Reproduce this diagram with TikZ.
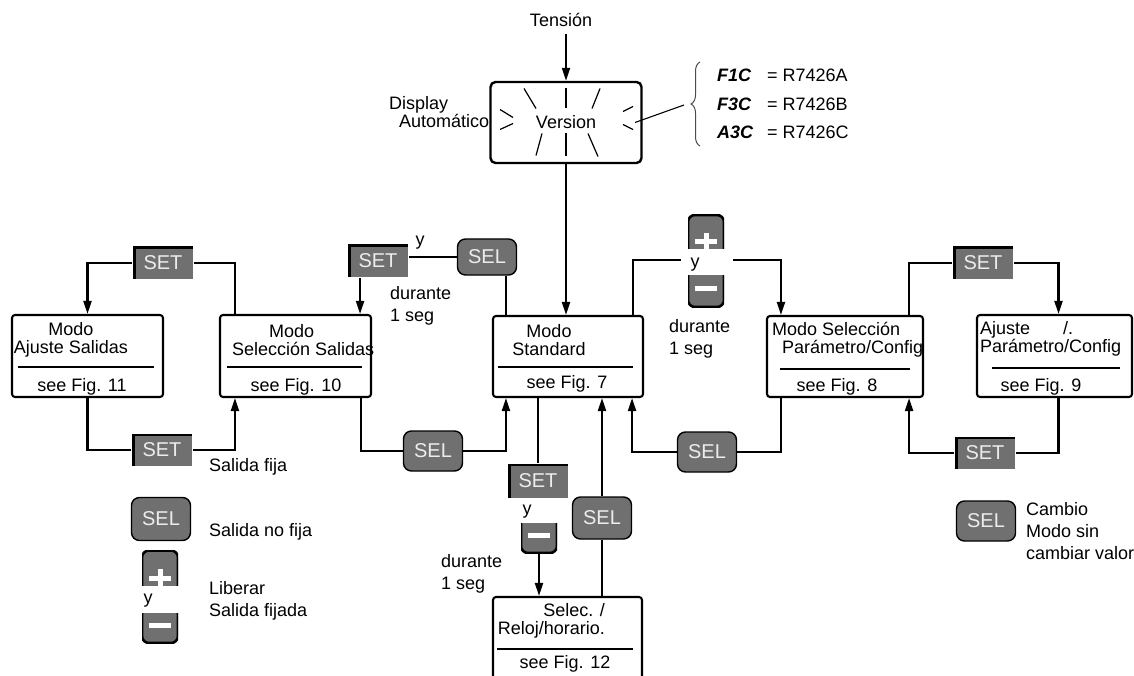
\documentclass[tikz,border=0pt]{standalone}
\usepackage{fontspec}
\setmainfont{Liberation Sans}
\usetikzlibrary{arrows.meta, decorations.pathreplacing, calc}
\definecolor{keygray}{RGB}{112,112,112}
\definecolor{keytext}{RGB}{236,236,236}
\tikzset{
  flow/.style={-{Triangle[length=13pt,width=8pt]}},
  modebox/.style={draw, line width=2.1pt, rounded corners=3pt, inner sep=0pt},
  twoline/.style={align=left, anchor=west, font=\fontsize{18}{22}\selectfont},
  setkey/.style={fill=keygray, text=keytext, minimum width=60pt, minimum height=32pt, inner sep=0pt,
    font=\fontsize{20}{20}\selectfont,
    path picture={
      \draw[line width=6pt] (path picture bounding box.south west) -- (path picture bounding box.north west);
      \draw[line width=4pt] (path picture bounding box.north west) -- (path picture bounding box.north east);}},
  selkey/.style={fill=keygray, draw, line width=1.4pt, rounded corners=8pt, text=keytext,
    minimum width=59pt, minimum height=40pt, inner sep=0pt, font=\fontsize{20}{20}\selectfont},
  pluskey/.style={minimum width=36pt, minimum height=34pt, inner sep=0pt,
    path picture={
      \filldraw[fill=keygray, line width=2.6pt, rounded corners=7pt]
        ([yshift=-12pt]path picture bounding box.south west) rectangle (path picture bounding box.north east);
      \fill[white] ([shift={(-11pt,-12.5pt)}]path picture bounding box.center) rectangle ([shift={(11pt,-7.5pt)}]path picture bounding box.center);
      \fill[white] ([shift={(-2.5pt,-20pt)}]path picture bounding box.center) rectangle ([shift={(2.5pt,-1pt)}]path picture bounding box.center);}},
  minuskey/.style={minimum width=36pt, minimum height=32pt, inner sep=0pt,
    path picture={
      \filldraw[fill=keygray, line width=2.6pt, rounded corners=7pt]
        (path picture bounding box.south west) rectangle ([yshift=12pt]path picture bounding box.north east);
      \fill[white] ([shift={(-11pt,0.5pt)}]path picture bounding box.center) rectangle ([shift={(11pt,5.5pt)}]path picture bounding box.center);}}
}

\begin{document}
\begin{tikzpicture}[x=1pt, y=-1pt, line width=2.1pt, inner sep=0pt, font=\fontsize{18}{18}\selectfont]
\useasboundingbox (0,0) rectangle (1134,676);

% power on, version display
\node (tension) at (561,20) {Tensión};
\node[modebox, line width=2.4pt, rounded corners=5pt, minimum width=151pt, minimum height=81pt] (ver) at (566,122.5) {Version};
\draw[flow] ($(tension.south -| ver.north)+(0,6)$) -- (ver.north);
\foreach \p/\q in {{0,-34}/{0,-14}, {-42,-34}/{-30,-14}, {34,-34}/{26,-14}, {-66,-13}/{-53,-5}, {-66,7}/{-53,1},
                   {57,-11}/{67,-16}, {57,2}/{67,7}, {0,11}/{0,34}, {-24,11}/{-30,33}, {22,11}/{32,34}}
  \draw[line width=1.2pt] ($(ver.center)+(\p)$) -- ($(ver.center)+(\q)$);
\node[align=left, anchor=west, font=\fontsize{18}{13}\selectfont] (disp) at (388,112) {Display\\\hspace{10pt}Automático};

% versions
\coordinate (brtip) at (684,105);
\draw[line width=1.1pt] ($(ver.center)+(69,0)$) -- (brtip);
\draw[decorate, decoration={brace, amplitude=9pt}, line width=1pt, black!70] (700,146) -- (700,62);
\node[anchor=west, font=\fontsize{18}{18}\selectfont\bfseries\itshape] (segA) at (716,75) {F1C};
\node[anchor=west, font=\fontsize{18}{18}\selectfont\bfseries\itshape] (segB) at (716,104) {F3C};
\node[anchor=west, font=\fontsize{18}{18}\selectfont\bfseries\itshape] (segC) at (716,132) {A3C};
\node[anchor=west] (verA) at (766,75) {= R7426A};
\node[anchor=west] (verB) at (766,104) {= R7426B};
\node[anchor=west] (verC) at (766,132) {= R7426C};

% mode boxes
\node[modebox, minimum width=151pt, minimum height=82pt] (ajs) at (87.5,356) {};
\node[align=center] (ajsT) at (71,340) {Modo\\Ajuste Salidas};
\draw (18,367) -- (154,367);
\node (ajsF) at (82,387) {see Fig. 11};

\node[modebox, minimum width=151pt, minimum height=82pt] (sels) at (295.5,356) {};
\node[align=left, anchor=west] (selsT) at (231,340) {\hspace{37pt}Modo\\Selección Salidas};
\draw (227,367) -- (362,367);
\node (selsF) at (296,387) {see Fig. 10};

\node[modebox, minimum width=150pt, minimum height=81pt] (std) at (568,356.5) {};
\node[align=center] (stdT) at (549,340) {Modo\\Standard};
\draw (498,367) -- (633,367);
\node (stdF) at (567,384) {see Fig. 7};

\node[modebox, minimum width=156pt, minimum height=81pt] (par) at (845,356.5) {};
\node[align=left, anchor=west] (parT) at (771,340) {Modo Selección\\\hspace{10pt}Parámetro/Config};
\draw (780,369) -- (910,369);
\node (parF) at (837,387) {see Fig. 8};

\node[modebox, minimum width=155pt, minimum height=82pt] (ajp) at (1054.5,356) {};
\node[align=left, anchor=west] (ajpT) at (979,339) {Ajuste\hspace{33pt}/.\\Parámetro/Config};
\draw (992,368) -- (1120,368);
\node (ajpF) at (1041,387) {see Fig. 9};

\node[modebox, minimum width=149pt, minimum height=90pt] (rel) at (567.5,642) {};
\node[align=right, anchor=east] (relT) at (606,621) {Selec. /\\Reloj/horario.};
\draw (497,649) -- (633,649);
\node (relF) at (565,664) {see Fig. 12};

% keys
\node[setkey] (setA) at (163,263) {SET};
\node[setkey] (setB) at (162,450) {SET};
\node[setkey] (setC) at (378,261) {SET};
\node[selkey, minimum height=36pt] (selA) at (487,257) {SEL};
\node[selkey] (selB) at (433,451) {SEL};
\node[setkey, minimum height=34pt] (setD) at (538,481) {SET};
\node[minuskey, minimum height=30pt] (miA) at (539,538) {};
\node[selkey, minimum height=42pt] (selC) at (602,518) {SEL};
\node[selkey] (selD) at (707,452) {SEL};
\node[pluskey] (plA) at (706,232) {};
\node[minuskey] (miB) at (706,291) {};
\node[setkey] (setE) at (983,263) {SET};
\node[setkey] (setF) at (985,453) {SET};

\node (yA) at (420,243) {y};
\node (yB) at (695,265) {y};
\node (yC) at (527,512) {y};
\node[twoline] (durA) at (389,306) {durante\\1 seg};
\node[twoline] (durB) at (668,339) {durante\\1 seg};
\node[twoline] (durC) at (440,574) {durante\\1 seg};

% ports on the boxes
\coordinate (selsUp) at ($(sels.north west)+(16,0)$);
\coordinate (selsInB) at ($(sels.south west)+(16,0)$);
\coordinate (selsIn) at ($(sels.north east)+(-12,0)$);
\coordinate (selsOut) at ($(sels.south east)+(-11,0)$);
\coordinate (stdInA) at ($(std.north west)+(14,0)$);
\coordinate (stdInB) at ($(std.south west)+(14,0)$);
\coordinate (stdInC) at ($(std.south east)+(-12,0)$);
\coordinate (stdOut) at ($(std.north east)+(-11,0)$);
\coordinate (parIn) at ($(par.north west)+(15,0)$);
\coordinate (parOut) at ($(par.south west)+(15,0)$);
\coordinate (parUp) at ($(par.north east)+(-15,0)$);
\coordinate (parInB) at ($(par.south east)+(-15,0)$);
\coordinate (ajpIn) at ($(ajp.north)+(4,0)$);
\coordinate (ajpOut) at ($(ajp.south)+(4,0)$);
\coordinate (pmL) at (681,260);
\coordinate (pmR) at (733,260);

% connectors
\draw[flow] (ver.south) -- (ver.south |- std.north);
\draw[flow] (setA.west) -| (ajs.north);
\draw (setA.east) -| (selsUp);
\draw (ajs.south) |- (setB.west);
\draw[flow] (setB.east) -| (selsInB);
\draw[flow] (setC.south -| selsIn) -- (selsIn);
\draw (selA.west -| setC.east) -- (selA.west);
\draw (selA.south -| stdInA) -- (stdInA);
\draw (selsOut) |- (selB.west);
\draw[flow] (selB.east) -| (stdInB);
\draw (std.south -| setD.north) -- (setD.north);
\draw[flow] (miA.south) -- (miA.south |- rel.north);
\draw (selC.south) -- (selC.south |- rel.north);
\draw[flow] (selC.north) -- (selC.north |- std.south);
\draw (parOut) |- (selD.east);
\draw[flow] (selD.west) -| (stdInC);
\draw (stdOut) |- (pmL);
\draw[flow] (pmR) -| (parIn);
\draw (parUp) |- (setE.west);
\draw[flow] (setE.east) -| (ajpIn);
\draw (ajpOut) |- (setF.east);
\draw[flow] (setF.west) -| (parInB);

% legend
\node[anchor=west] (fija) at (208,467) {Salida fija};
\node[selkey, minimum height=43pt] (selL) at (161,519) {SEL};
\node[anchor=west] (nofija) at (208,532) {Salida no fija};
\node[pluskey, minimum height=35pt] (plL) at (160,568) {};
\node (yL) at (148,601) {y};
\node[minuskey, minimum height=30pt] (miL) at (160,628) {};
\node[twoline] (liber) at (208,601) {Liberar\\Salida fijada};
\node[selkey] (selM) at (986,521) {SEL};
\node[twoline] (cambio) at (1025,531) {Cambio\\Modo sin\\cambiar valor};
\end{tikzpicture}
\end{document}
